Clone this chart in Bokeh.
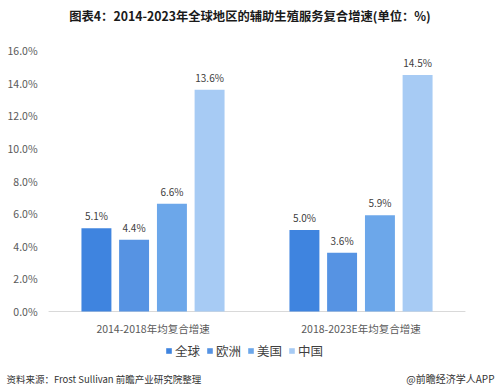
from bokeh.plotting import figure
from bokeh.models import ColumnDataSource, FactorRange, Range1d, Label, Legend, LegendItem
from bokeh.transform import dodge
from bokeh.core.properties import value
from bokeh.embed import file_html
from bokeh.resources import INLINE

groups = ["2014-2018年均复合增速", "2018-2023E年均复合增速"]
series = ["全球", "欧洲", "美国", "中国"]
global_vals = [5.1, 5.0]
europe_vals = [4.4, 3.6]
us_vals = [6.6, 5.9]
china_vals = [13.6, 14.5]
y_ticks = [0, 2, 4, 6, 8, 10, 12, 14, 16]
y_tick_labels = ["0.0%", "2.0%", "4.0%", "6.0%", "8.0%", "10.0%", "12.0%", "14.0%", "16.0%"]

colors = ["#3f84df", "#5693e3", "#6ca7ea", "#a7cbf4"]
offsets = [-0.272, -0.091, 0.091, 0.272]
FONT = value("Noto Sans CJK SC")
SHIFT = 0.0337

W, H = 499, 391
p = figure(x_range=FactorRange(factors=groups, range_padding=0.1995, range_padding_units="absolute"),
           y_range=Range1d(-4.904, 19.065),
           width=W, height=H, output_backend="svg", toolbar_location=None,
           x_axis_location=None, y_axis_location=None,
           min_border_left=0, min_border_right=0, min_border_top=0, min_border_bottom=0)
p.outline_line_color = None
p.xgrid.grid_line_color = None
p.ygrid.grid_line_color = None

src = ColumnDataSource(dict(groups=groups, g=global_vals, e=europe_vals, u=us_vals, c=china_vals,
                            gl=[f"{v:.1f}%" for v in global_vals],
                            el=[f"{v:.1f}%" for v in europe_vals],
                            ul=[f"{v:.1f}%" for v in us_vals],
                            cl=[f"{v:.1f}%" for v in china_vals]))

# baseline (x axis line)
p.segment(x0=dodge("a", -0.502 + SHIFT, range=p.x_range), y0=0,
          x1=dodge("b", 0.502 + SHIFT, range=p.x_range), y1=0,
          source=ColumnDataSource(dict(a=[groups[0]], b=[groups[-1]])),
          line_color="#d9d9d9", line_width=1)

items = []
for name, col, lab, color, off in zip(series, ["g", "e", "u", "c"], ["gl", "el", "ul", "cl"], colors, offsets):
    r = p.vbar(x=dodge("groups", off + SHIFT, range=p.x_range), top=col, width=0.144, source=src,
               fill_color=color, line_color=None)
    p.text(x=dodge("groups", off + SHIFT, range=p.x_range), y=col, text=lab, source=src,
           text_align="center", text_baseline="bottom", y_offset=-5,
           text_font_size="10px", text_color="#404040", text_font=FONT)
    items.append(LegendItem(label=name, renderers=[r]))

# category labels
p.text(x=dodge("groups", SHIFT, range=p.x_range), y=0, text="groups", source=src,
       text_align="center", text_baseline="middle", y_offset=17,
       text_font_size="10.5px", text_color="#595959", text_font=FONT)

# y tick labels
ysrc = ColumnDataSource(dict(x=[groups[0]] * len(y_ticks), y=y_ticks, t=y_tick_labels))
p.text(x=dodge("x", -0.555 + SHIFT, range=p.x_range), y="y", text="t", source=ysrc,
       text_align="right", text_baseline="middle",
       text_font_size="10.5px", text_color="#595959", text_font=FONT)

legend = Legend(items=items, orientation="horizontal", location=(165, 31),
                glyph_width=7, glyph_height=7, label_standoff=3, spacing=6, padding=0, margin=0,
                label_text_font_size="12.5px", label_text_color="#404040", label_text_font="Noto Sans CJK SC",
                border_line_color=None, background_fill_alpha=0, label_height=14)
p.add_layout(legend, "center")

p.add_layout(Label(x=249.5, y=H - 15, x_units="screen", y_units="screen",
                   text="图表4：2014-2023年全球地区的辅助生殖服务复合增速(单位：%)",
                   text_align="center", text_baseline="middle", text_font="Noto Sans CJK SC",
                   text_font_size="12.3px", text_font_style="bold", text_color="#1a1a1a"))
p.add_layout(Label(x=6, y=H - 378, x_units="screen", y_units="screen",
                   text="资料来源：Frost Sullivan 前瞻产业研究院整理",
                   text_align="left", text_baseline="middle", text_font="Noto Sans CJK SC",
                   text_font_size="9.5px", text_color="#333333"))
p.add_layout(Label(x=494, y=H - 378, x_units="screen", y_units="screen",
                   text="@前瞻经济学人APP",
                   text_align="right", text_baseline="middle", text_font="Noto Sans CJK SC",
                   text_font_size="10px", text_color="#333333"))

open("out.html", "w").write(file_html(p, INLINE))
